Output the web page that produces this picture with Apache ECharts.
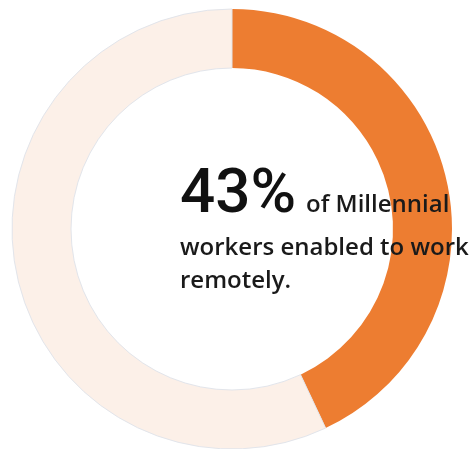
<!DOCTYPE html>
<html>
<head>
<meta charset="utf-8">
<script src="https://cdn.jsdelivr.net/npm/echarts@6/dist/echarts.min.js"></script>
<style>
  html, body { margin: 0; padding: 0; background: #ffffff; }
  #chart { width: 475px; height: 449px; }
</style>
</head>
<body>
<div id="chart"></div>
<script>
// Share of Millennial workers enabled to work remotely
const categories = ['Enabled to work remotely', 'Not enabled'];
const shareValues = [43, 57];
const headline = '43%';
const captionLines = ['of Millennial', 'workers enabled to work', 'remotely.'];

const sliceColors = ['#ED7D31', '#FCF0E8'];

const chart = echarts.init(document.getElementById('chart'), null, { renderer: 'canvas' });

const headFont = 'Roboto, "Noto Sans", sans-serif';
const bodyFont = '"Open Sans", Roboto, sans-serif';

chart.setOption({
  backgroundColor: '#ffffff',
  animation: false,
  series: [{
    type: 'pie',
    center: [232, 229],
    radius: [161, 220],
    startAngle: 90,
    clockwise: true,
    z: 1,
    label: { show: false },
    labelLine: { show: false },
    emphasis: { disabled: true },
    data: categories.map((name, i) => ({
      name: name,
      value: shareValues[i],
      itemStyle: {
        color: sliceColors[i],
        borderColor: i === 0 ? sliceColors[i] : '#E2E5EB',
        borderWidth: i === 0 ? 0 : 1
      }
    }))
  }],
  graphic: {
    elements: [
      {
        type: 'text', left: 180, top: 165, z: 100,
        style: { text: headline, font: '500 62px ' + headFont, fill: '#111111' }
      },
      {
        type: 'text', left: 306, top: 193, z: 100,
        style: { text: captionLines[0], font: '600 24px ' + bodyFont, fill: '#1a1a1a' }
      },
      {
        type: 'text', left: 180, top: 236, z: 100,
        style: { text: captionLines[1], font: '600 24px ' + bodyFont, fill: '#1a1a1a' }
      },
      {
        type: 'text', left: 180, top: 269, z: 100,
        style: { text: captionLines[2], font: '600 24px ' + bodyFont, fill: '#1a1a1a' }
      }
    ]
  }
});
</script>
</body>
</html>
